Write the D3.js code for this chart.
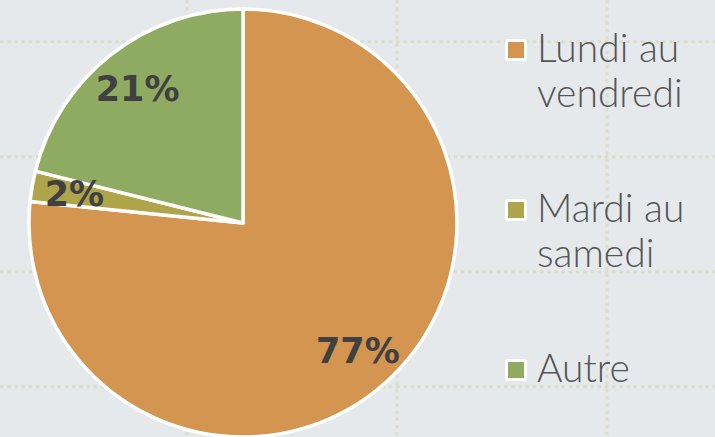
<!DOCTYPE html>
<meta charset="utf-8">
<script src="https://d3js.org/d3.v7.min.js"></script>
<style>
  body { margin: 0; background: #e6e9ec; }
</style>
<div id="vis"></div>
<script>

var categories = ["Lundi au vendredi", "Mardi au samedi", "Autre"]
var values = [76.6, 2.3, 21.1]
var legendLines = [["Lundi au", "vendredi"], ["Mardi au", "samedi"], ["Autre"]]
var colors = ["#d3954f", "#aea54a", "#8fab62"]

var width = 715,
    height = 437

var svg = d3.select("#vis")
  .append("svg")
    .attr("width", width)
    .attr("height", height)

svg.append("rect")
  .attr("width", width)
  .attr("height", height)
  .attr("fill", "#e6e9ec")

// dotted grid behind the pie
var gx = d3.scaleLinear().domain([0, 1]).range([187, 397])
var gy = d3.scaleLinear().domain([0, 1]).range([41.7, 156.7])

svg.selectAll(".hgrid")
  .data([0, 1, 2, 3])
  .enter().append("line")
    .attr("x1", 0).attr("x2", width)
    .attr("y1", function(d) { return gy(d) })
    .attr("y2", function(d) { return gy(d) })
    .attr("stroke", "#dcdcca")
    .attr("stroke-width", 3)
    .attr("stroke-dasharray", "3.5,3.7")

svg.selectAll(".vgrid")
  .data([-1, 0, 1, 2])
  .enter().append("line")
    .attr("y1", 0).attr("y2", height)
    .attr("x1", function(d) { return gx(d) })
    .attr("x2", function(d) { return gx(d) })
    .attr("stroke", "#dcdcca")
    .attr("stroke-width", 3)
    .attr("stroke-dasharray", "3.5,3.7")

var color = d3.scaleOrdinal().domain(categories).range(colors)

var radius = 214
var g = svg.append("g")
  .attr("transform", "translate(243,223)")

var pie = d3.pie().sort(null).value(function(d) { return d.value })
var arcs = pie(categories.map(function(c, i) { return {key: c, value: values[i]} }))

var arc = d3.arc().innerRadius(0).outerRadius(radius)
var labelArc = d3.arc().innerRadius(radius * 0.8).outerRadius(radius * 0.8)

g.selectAll("path")
  .data(arcs)
  .enter().append("path")
    .attr("d", arc)
    .attr("fill", function(d) { return color(d.data.key) })
    .attr("stroke", "white")
    .attr("stroke-width", 3.5)
    .attr("stroke-linejoin", "round")

g.selectAll(".lbl")
  .data(arcs)
  .enter().append("text")
    .attr("transform", function(d) { return "translate(" + labelArc.centroid(d) + ")" })
    .attr("dy", "0.36em")
    .attr("text-anchor", "middle")
    .style("font-family", "'DejaVu Sans', sans-serif")
    .style("font-weight", "bold")
    .style("font-size", "35px")
    .attr("fill", "#404040")
    .text(function(d) { return Math.round(d.data.value) + "%" })

// legend
var ly = d3.scaleLinear().domain([0, 1]).range([62, 222])

var item = svg.selectAll(".leg")
  .data(categories)
  .enter().append("g")
    .attr("transform", function(d, i) { return "translate(505," + ly(i) + ")" })

item.append("rect")
  .attr("x", 1.5).attr("y", -21.5)
  .attr("width", 19).attr("height", 19)
  .attr("rx", 2)
  .attr("fill", function(d) { return color(d) })
  .attr("stroke", "white")
  .attr("stroke-width", 3)

item.append("text")
  .attr("x", 32)
  .style("font-family", "Lato, sans-serif")
  .style("font-weight", 300)
  .style("font-size", "39px")
  .attr("fill", "#555555")
  .selectAll("tspan")
  .data(function(d, i) { return legendLines[i] })
  .enter().append("tspan")
    .attr("x", 32)
    .attr("y", function(d, j) { return j * 45 })
    .text(function(d) { return d })

</script>
